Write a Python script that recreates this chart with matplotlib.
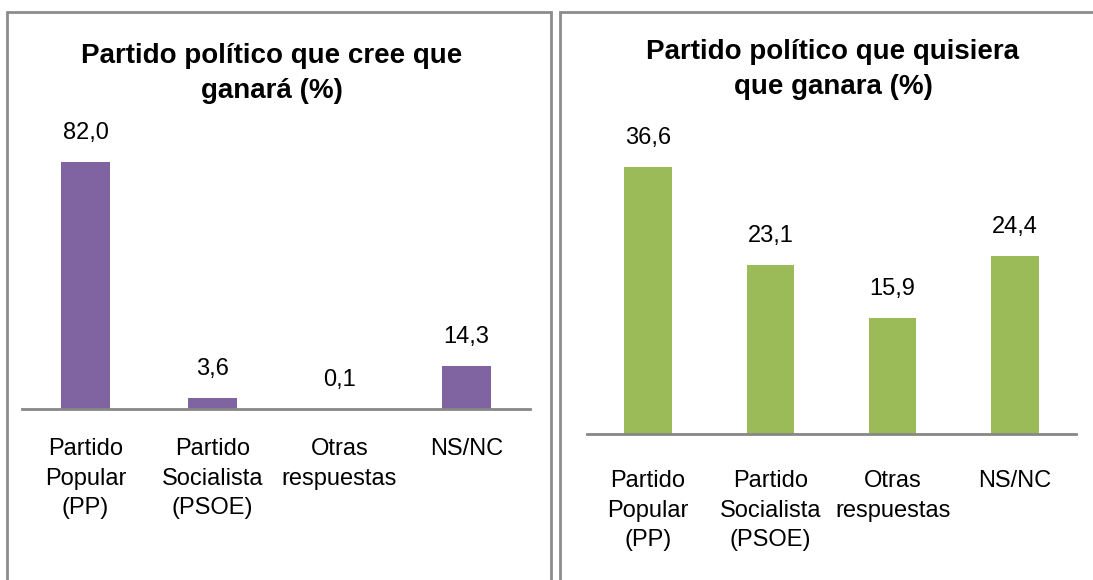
import matplotlib
matplotlib.use('Agg')
import matplotlib.pyplot as plt
from matplotlib.patches import Rectangle

categorias = ['Partido\nPopular\n(PP)', 'Partido\nSocialista\n(PSOE)', 'Otras\nrespuestas', 'NS/NC']
cree_ganara = [82.0, 3.6, 0.1, 14.3]
quisiera_ganara = [36.6, 23.1, 15.9, 24.4]
titulo_izq = 'Partido político que cree que\nganará (%)'
titulo_der = 'Partido político que quisiera\nque ganara (%)'

W, H = 1093, 580
plt.rcParams['font.family'] = ['Liberation Sans', 'DejaVu Sans']

fig = plt.figure(figsize=(W / 100, H / 100), dpi=100)


def box(x0, y0, x1, y1):
    # pixel box (top-left origin) -> figure coords
    return [x0 / W, 1 - y1 / H, (x1 - x0) / W, (y1 - y0) / H]


# panel frames
for x0, x1 in [(7, 551), (560, 1110)]:
    fig.patches.append(Rectangle((x0 / W, -0.1), (x1 - x0) / W, 1 - 12 / H + 0.1,
                                 transform=fig.transFigure, fill=False,
                                 edgecolor='#8c8c8c', linewidth=2))


def panel(rect, values, color, ymax, title, title_xy, pad):
    ax = fig.add_axes(rect)
    xs = range(len(values))
    bars = ax.bar(xs, values, width=0.39, color=color)
    for b, v in zip(bars, values):
        ax.annotate(f'{v:.1f}'.replace('.', ','), (b.get_x() + b.get_width() / 2, v),
                    xytext=(0, 13), textcoords='offset points',
                    ha='center', va='bottom', fontsize=17)
    ax.set_xlim(-0.5, len(values) - 0.5)
    ax.set_ylim(0, ymax)
    ax.set_xticks(list(xs))
    ax.set_xticklabels(categorias, fontsize=17, linespacing=1.45)
    ax.tick_params(axis='x', length=0, pad=pad)
    ax.set_yticks([])
    for s in ['top', 'right', 'left']:
        ax.spines[s].set_visible(False)
    ax.spines['bottom'].set_color('#878787')
    ax.spines['bottom'].set_linewidth(2)
    ax.patch.set_alpha(0)
    fig.text(title_xy[0] / W, 1 - title_xy[1] / H, title, ha='center', va='top',
             fontsize=20, fontweight='bold', linespacing=1.45)
    return ax


panel(box(22, 139, 530, 409), cree_ganara, '#8064A2', 89.7, titulo_izq, (272, 43), 21)
panel(box(587, 142, 1076, 434), quisiera_ganara, '#9BBB59', 40.0, titulo_der, (833, 39), 26)

fig.savefig('out.png', dpi=100)
